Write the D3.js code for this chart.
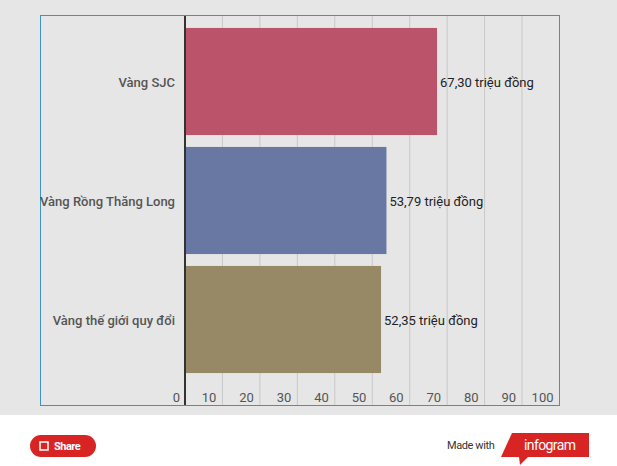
<!DOCTYPE html>
<html><head><meta charset="utf-8">
<script src="https://cdn.jsdelivr.net/npm/d3@7"></script>
<style>body{margin:0;background:#fff;font-family:Roboto,sans-serif}</style>
</head><body><svg id="c" width="617" height="466"></svg>
<script>
const categories = ["Vàng SJC", "Vàng Rồng Thăng Long", "Vàng thế giới quy đổi"];
const values = [67.30, 53.79, 52.35];
const valueLabels = ["67,30 triệu đồng", "53,79 triệu đồng", "52,35 triệu đồng"];
const colors = ["#bb536b", "#6878a3", "#978866"];
const ticks = [0, 10, 20, 30, 40, 50, 60, 70, 80, 90, 100];

const svg = d3.select("#c");
svg.append("rect").attr("width", 617).attr("height", 415).attr("fill", "#e6e6e6");
svg.append("rect").attr("x", 40.5).attr("y", 15.5).attr("width", 519).attr("height", 390)
  .attr("fill", "none").attr("stroke", "#3d94c4");

const x = d3.scaleLinear().domain([0, 100]).range([185, 559.5]);
const y = d3.scaleBand().domain(categories).range([22, 379]).paddingInner(0.1).paddingOuter(0.05);

svg.append("g").selectAll("line").data(ticks.slice(1, -1)).join("line")
  .attr("x1", d => x(d)).attr("x2", d => x(d)).attr("y1", 16).attr("y2", 405)
  .attr("stroke", "#c8c8c8");

svg.append("g").selectAll("rect").data(values).join("rect")
  .attr("x", x(0)).attr("y", (d, i) => y(categories[i]))
  .attr("width", d => x(d) - x(0)).attr("height", y.bandwidth())
  .attr("fill", (d, i) => colors[i]);

svg.append("line").attr("x1", 185).attr("x2", 185).attr("y1", 16).attr("y2", 405)
  .attr("stroke", "#333").attr("stroke-width", 2);

svg.append("g").selectAll("text").data(values).join("text")
  .attr("x", d => x(d) + 3).attr("y", (d, i) => y(categories[i]) + y.bandwidth() / 2 + 5)
  .attr("font-size", 13).attr("fill", "#222").text((d, i) => valueLabels[i]);

svg.append("g").selectAll("text").data(categories).join("text")
  .attr("x", 175).attr("y", d => y(d) + y.bandwidth() / 2 + 5).attr("text-anchor", "end")
  .attr("font-size", 13).attr("font-weight", 500).attr("fill", "#555").text(d => d);

svg.append("g").selectAll("text").data(ticks).join("text")
  .attr("y", 402).attr("text-anchor", "end")
  .attr("font-size", 13).attr("fill", "#555").text(d => d)
  .attr("x", (d, i) => i === 0 ? x(0) - 5 : x(d) - 6);

// footer
const sh = svg.append("g");
sh.append("rect").attr("x", 30).attr("y", 435).attr("width", 66).attr("height", 22).attr("rx", 11).attr("fill", "#d92424");
sh.append("rect").attr("x", 40).attr("y", 442).attr("width", 8).attr("height", 8).attr("fill", "none").attr("stroke", "#fff").attr("stroke-width", 1.5);
sh.append("text").attr("x", 54).attr("y", 450).attr("font-size", 11).attr("font-weight", "bold").attr("fill", "#fff").attr("letter-spacing", -0.5).text("Share");
svg.append("text").attr("x", 447).attr("y", 449).attr("font-size", 11).attr("fill", "#333").attr("letter-spacing", -0.4).text("Made with");
svg.append("path").attr("d", "M512,433 L589,433 L589,457 L528,457 L520,465 L519,457 L501,457 Z").attr("fill", "#d92424");
svg.append("text").attr("x", 524).attr("y", 450).attr("font-size", 14).attr("fill", "#fff").attr("letter-spacing", -0.6).text("infogram");
</script></body></html>
